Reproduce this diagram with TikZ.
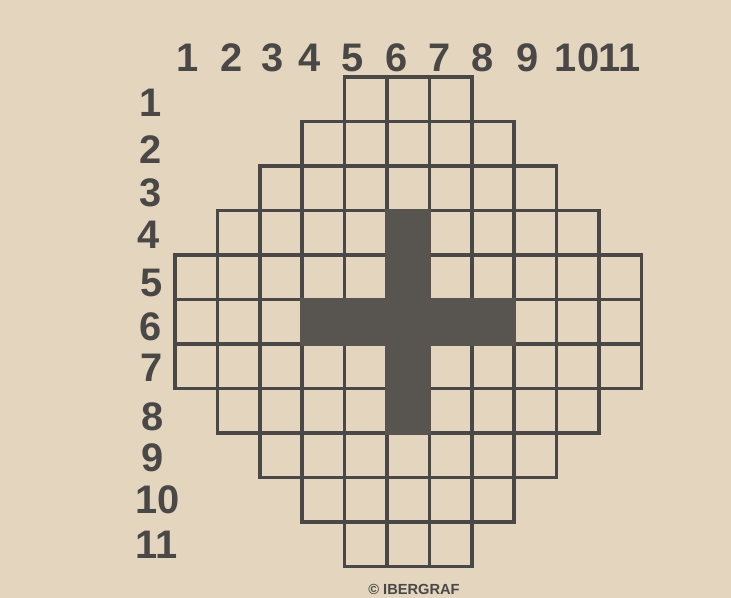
\documentclass[tikz,border=0pt]{standalone}
\usepackage{fontspec}
\setmainfont{Liberation Sans}
\usetikzlibrary{positioning}
\definecolor{paper}{RGB}{228,213,190}
\definecolor{ink}{RGB}{74,72,70}
\definecolor{inkfill}{RGB}{88,85,81}

\begin{document}
\begin{tikzpicture}[x=0.03cm, y=-0.03cm,
  cell/.style={draw=ink, line width=3pt, minimum width=1.272cm, minimum height=1.335cm, inner sep=0pt},
  numlabel/.style={text=ink, font=\fontsize{34}{38}\selectfont\bfseries, inner sep=0pt},
  credit/.style={text=ink, font=\fontsize{12.5}{14}\selectfont\bfseries, inner sep=0pt}]
  \useasboundingbox (0,0) rectangle (731,598);
  \fill[paper] (0,0) rectangle (731,598);
  % column and row numbers
  \foreach \n/\x in {1/188,2/232,3/273,4/310,5/353,6/397,7/440,8/483,9/528,10/577,11/620}
    \node[numlabel] (col-\n) at (\x,58) {\n};
  \foreach \n/\y/\x in {1/103/151,2/150/151,3/193/151,4/235/149,5/283/152,6/327/151,7/368/152,8/417/153,9/458/153,10/500/158,11/545/157}
    \node[numlabel] (row-\n) at (\x,\y) {\n};
  % the grid, row by row
  \begin{scope}[shift={(175,77)}, x=1.272cm, y=-1.335cm]
    \foreach \r/\a/\b in {1/5/7,2/4/8,3/3/9,4/2/10,5/1/11,6/1/11,7/1/11,8/2/10,9/3/9,10/4/8,11/5/7}
      \foreach \c in {\a,...,\b}
        \node[cell] (c-\r-\c) at (\c-0.5,\r-0.5) {};
  \end{scope}
  % the cross
  \fill[inkfill] (c-4-6.north west) rectangle (c-8-6.south east);
  \fill[inkfill] (c-6-4.north west) rectangle (c-6-8.south east);
  \node[credit, anchor=north] (credit) at (414,584) {© IBERGRAF};
\end{tikzpicture}
\end{document}
